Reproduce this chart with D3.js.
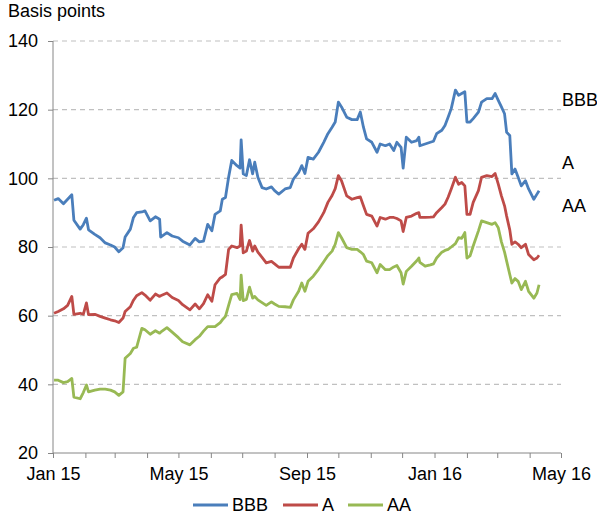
<!DOCTYPE html>
<html>
<head>
<meta charset="utf-8">
<script src="https://cdn.jsdelivr.net/npm/d3@7"></script>
<style>
  body { margin: 0; background: #fff; }
  text { font-family: "Liberation Sans", Arial, sans-serif; }
</style>
</head>
<body>
<div id="chart"></div>
<script>
// dates shared by all three series
const dates = [
  '2015-01-02','2015-01-06','2015-01-11','2015-01-15','2015-01-19','2015-01-21','2015-01-27','2015-01-30',
  '2015-02-02','2015-02-04','2015-02-10','2015-02-15','2015-02-20','2015-02-25','2015-03-01','2015-03-05',
  '2015-03-09','2015-03-11','2015-03-16','2015-03-19','2015-03-22','2015-03-27','2015-03-30','2015-04-04',
  '2015-04-09','2015-04-13','2015-04-14','2015-04-20','2015-04-25','2015-05-01','2015-05-05','2015-05-12',
  '2015-05-17','2015-05-21','2015-05-25','2015-05-29','2015-06-02','2015-06-05','2015-06-10','2015-06-12',
  '2015-06-15','2015-06-18','2015-06-21','2015-06-26','2015-06-29','2015-06-30','2015-07-02','2015-07-05',
  '2015-07-08','2015-07-11','2015-07-13','2015-07-16','2015-07-20','2015-07-24','2015-07-29','2015-08-01',
  '2015-08-05','2015-08-11','2015-08-16','2015-08-19','2015-08-24','2015-08-27','2015-08-30','2015-09-02',
  '2015-09-07','2015-09-12','2015-09-17','2015-09-21','2015-09-25','2015-09-28','2015-10-01','2015-10-04',
  '2015-10-09','2015-10-14','2015-10-19','2015-10-22','2015-10-25','2015-10-28','2015-11-02','2015-11-07',
  '2015-11-10','2015-11-15','2015-11-19','2015-11-23','2015-11-26','2015-11-30','2015-12-02','2015-12-05',
  '2015-12-10','2015-12-15','2015-12-17','2015-12-18','2015-12-23','2015-12-28','2015-12-31','2016-01-03',
  '2016-01-08','2016-01-11','2016-01-14','2016-01-17','2016-01-21','2016-01-24','2016-01-27','2016-01-30',
  '2016-02-01','2016-02-04','2016-02-07','2016-02-12','2016-02-15','2016-02-20','2016-02-25','2016-02-28',
  '2016-03-02','2016-03-05','2016-03-08','2016-03-10','2016-03-13','2016-03-15','2016-03-18','2016-03-21',
  '2016-03-24','2016-03-28','2016-03-31','2016-04-05','2016-04-08','2016-04-10'
];

const bbb = [
  93.6,94.1,92.6,93.9,95.2,87.8,85.2,86.5, 88.4,85.0,83.7,82.7,81.2,80.6,80.0,78.6,
  79.8,82.9,85.2,88.6,90.0,90.2,90.5,87.6, 88.8,88.1,82.9,84.2,83.2,82.7,81.7,80.6,
  82.5,81.5,81.7,86.6,84.7,89.5,90.5,93.9, 94.4,100.3,105.2,103.7,103.0,111.2,101.3,100.8,
  105.4,101.3,104.7,100.3,97.3,96.9,97.5,96.4, 95.4,96.9,97.3,99.8,101.7,103.7,101.4,106.1,
  105.6,107.6,110.5,113.0,114.9,116.4,122.2,120.8, 117.8,117.1,117.1,119.3,114.9,111.5,110.5,107.6,
  110.0,109.5,110.0,108.1,110.5,109.0,103.0,112.0, 110.5,111.0,112.0,109.5,110.0,110.5,110.8,113.0,
  114.0,115.4,117.8,120.3,125.7,124.2,124.7,125.2, 116.4,116.4,117.4,119.3,122.2,123.2,123.2,124.7,
  122.7,120.8,118.8,113.4,112.5,101.3,102.7,100.3, 97.8,99.3,96.9,93.9,95.4,96.4
];

const a = [
  60.7,61.2,62.0,63.0,65.6,60.4,60.7,60.4, 63.7,60.3,60.4,59.8,59.3,58.8,58.5,58.0,
  59.3,61.2,62.6,64.5,65.8,66.7,66.0,64.5, 66.3,65.6,65.8,66.6,65.3,64.4,63.2,61.7,
  63.4,62.0,63.5,66.1,64.2,69.0,71.0,71.3, 72.0,79.3,80.3,79.8,80.3,86.4,78.3,78.8,
  81.9,78.8,80.3,78.5,77.0,75.4,75.8,75.1, 74.1,74.1,74.1,76.8,79.5,80.8,79.3,84.0,
  85.3,87.3,90.0,93.0,95.0,97.0,100.8,99.3, 94.9,93.9,94.4,94.6,92.0,89.5,89.0,86.1,
  88.6,88.1,88.6,88.6,88.3,87.6,84.5,88.6, 89.0,89.8,90.0,88.6,88.6,88.7,88.8,90.0,
  91.5,92.5,94.5,96.9,100.3,98.3,98.8,97.8, 89.5,89.5,93.0,96.4,100.3,100.8,100.5,101.4,
  98.3,94.9,92.0,89.0,85.0,80.8,81.5,80.8, 79.8,80.8,77.8,76.3,76.8,77.6
];

const aa = [
  41.2,41.2,40.5,40.8,41.7,36.3,35.8,37.6, 39.8,37.8,38.3,38.6,38.6,38.3,37.8,36.8,
  37.8,47.6,49.0,50.5,50.8,56.3,55.9,54.6, 55.6,54.9,55.2,56.5,55.2,53.6,52.4,51.5,
  53.0,54.0,55.5,56.8,56.8,56.8,58.0,58.8, 59.8,63.0,66.1,66.5,64.7,71.8,64.4,64.7,
  68.3,65.1,65.6,64.6,63.8,63.0,64.0,63.4, 62.7,62.6,62.4,64.6,67.1,69.5,67.1,70.0,
  71.5,73.5,75.7,77.5,78.8,80.8,84.2,82.7, 79.8,79.3,79.3,78.6,77.8,75.9,75.4,72.5,
  74.9,73.4,73.4,74.2,74.6,72.5,69.2,72.9, 74.4,76.0,76.8,75.5,74.4,74.8,75.1,76.8,
  78.5,79.0,79.3,80.0,81.0,82.7,82.5,84.2, 76.8,77.4,80.3,84.7,87.6,87.1,86.6,87.1,
  85.6,81.5,78.5,75.9,72.0,69.5,70.8,70.0, 67.6,70.0,67.1,65.1,66.6,69.0
];

const seriesNames = ['BBB', 'A', 'AA'];
const yTicks = [20, 40, 60, 80, 100, 120, 140];
// where the right-hand series labels sit, in basis points
const labelLevels = [122.8, 104.5, 91.9];

const colors = { BBB: '#4a7ebb', A: '#be4b48', AA: '#98b954' };
const axisColor = '#868686';
const gridColor = '#c0c0c0';
const FONT = 18;

const W = 597, H = 515;
const margin = { top: 41, right: 36, bottom: 62, left: 53 };
const innerW = W - margin.left - margin.right;
const innerH = H - margin.top - margin.bottom;

const parse = d3.timeParse('%Y-%m-%d');
const series = [
  { name: 'BBB', values: bbb },
  { name: 'A', values: a },
  { name: 'AA', values: aa }
].map(s => ({ name: s.name, points: dates.map((d, i) => ({ date: parse(d), value: s.values[i] })) }));

const svg = d3.select('#chart').append('svg').attr('width', W).attr('height', H);
const g = svg.append('g').attr('transform', `translate(${margin.left},${margin.top})`);

const x = d3.scaleTime().domain([new Date(2015, 0, 1), new Date(2016, 4, 1)]).range([0, innerW]);
const y = d3.scaleLinear().domain([20, 140]).range([innerH, 0]);

// dashed gridlines
g.append('g').selectAll('line').data(yTicks.filter(v => v > 20)).join('line')
  .attr('x1', 0).attr('x2', innerW)
  .attr('y1', d => y(d)).attr('y2', d => y(d))
  .attr('stroke', gridColor).attr('stroke-width', 1.2).attr('stroke-dasharray', '5 4');

// y axis
const yAxisG = g.append('g').call(d3.axisLeft(y).tickValues(yTicks).tickSize(5).tickPadding(10));
yAxisG.select('.domain').attr('stroke', axisColor).attr('d', `M0,${innerH}V0`);
yAxisG.selectAll('.tick line').attr('stroke', axisColor);
yAxisG.selectAll('.tick text').attr('font-size', FONT).attr('fill', '#000')
  .attr('font-family', '"Liberation Sans", Arial, sans-serif');

// x axis, monthly ticks, labels every four months
const fmt = d3.timeFormat('%b %y');
const xAxisG = g.append('g').attr('transform', `translate(0,${innerH})`)
  .call(d3.axisBottom(x).ticks(d3.timeMonth.every(1)).tickSize(5).tickPadding(9)
    .tickFormat(d => d.getMonth() % 4 === 0 ? fmt(d) : ''));
xAxisG.select('.domain').attr('stroke', axisColor).attr('d', `M0,0H${innerW}`);
xAxisG.selectAll('.tick line').attr('stroke', axisColor);
xAxisG.selectAll('.tick text').attr('font-size', FONT).attr('fill', '#000')
  .attr('font-family', '"Liberation Sans", Arial, sans-serif');

// lines
const line = d3.line().x(d => x(d.date)).y(d => y(d.value));
g.append('g').selectAll('path').data(series).join('path')
  .attr('fill', 'none')
  .attr('stroke', d => colors[d.name])
  .attr('stroke-width', 2.8)
  .attr('stroke-linejoin', 'round')
  .attr('d', d => line(d.points));

// labels at right
g.append('g').selectAll('text').data(seriesNames).join('text')
  .attr('x', innerW + 1).attr('y', (d, i) => y(labelLevels[i]))
  .attr('dy', '0.35em').attr('font-size', FONT).attr('fill', '#000')
  .text(d => d);

// title
svg.append('text').attr('x', 8).attr('y', 17).attr('font-size', FONT).attr('fill', '#000').text('Basis points');

// legend
const legendX = [193, 283, 348];
const lg = svg.append('g').attr('transform', 'translate(0,505)');
seriesNames.forEach((n, i) => {
  lg.append('line').attr('x1', legendX[i]).attr('x2', legendX[i] + 35)
    .attr('y1', 0).attr('y2', 0).attr('stroke', colors[n]).attr('stroke-width', 2.8);
  lg.append('text').attr('x', legendX[i] + 39).attr('y', 0).attr('dy', '0.35em')
    .attr('font-size', FONT).attr('fill', '#000').text(n);
});
</script>
</body>
</html>
